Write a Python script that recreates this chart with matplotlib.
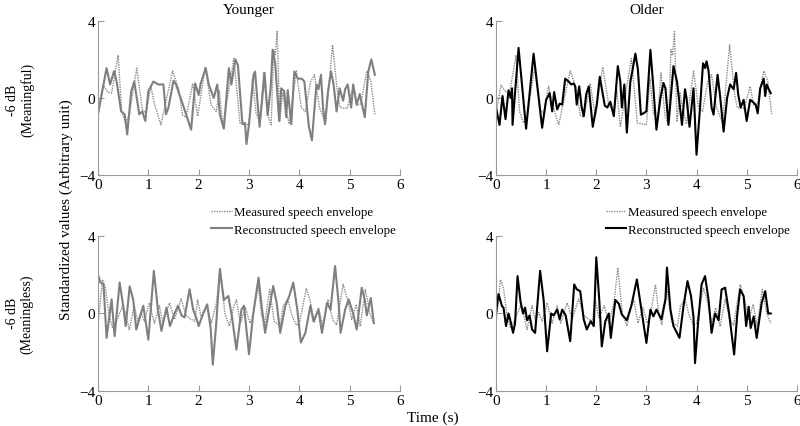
import matplotlib
matplotlib.use("Agg")
import matplotlib.pyplot as plt

plt.rcParams['font.family'] = ['Liberation Serif', 'DejaVu Serif']

# measured envelope, meaningful sentence (same in both top panels)
meas_mf_t = [0, 0.1, 0.2, 0.27, 0.4, 0.47, 0.55, 0.62, 0.77, 0.88, 0.95, 1.05, 1.12, 1.25,
             1.48, 1.6, 1.68, 1.75, 1.88, 1.98, 2.13, 2.25, 2.35, 2.41, 2.48, 2.7, 2.82,
             2.92, 3.0, 3.07, 3.14, 3.22, 3.29, 3.37, 3.44, 3.49, 3.52, 3.56, 3.61, 3.67,
             3.72, 3.8, 3.94, 4.04, 4.12, 4.22, 4.3, 4.4, 4.52, 4.66, 4.76, 4.81, 4.95,
             5.07, 5.14, 5.22, 5.34, 5.42, 5.5]
meas_mf_v = [-0.8, 0.66, 0.3, 0.25, 2.2, -0.7, -1.3, -0.9, 1.55, -0.6, -0.8, 0.6, -0.3, -1.4,
             1.4, 0.5, -0.9, -1.0, 0.75, -0.95, 1.6, -0.4, -0.7, 0.4, -1.5, 2.05, -1.3,
             -1.35, -1.4, 1.0, -0.8, -1.2, 1.3, -0.9, -1.4, 2.5, 2.2, 3.45, -1.2, 0.3,
             -0.5, -1.35, 1.4, -0.5, -0.7, 0.8, 1.2, -0.5, -1.3, 2.75, 0.2, -0.5, -0.55,
             0.6, -0.4, -0.3, 1.4, 0.9, -0.85]

# reconstructed, younger, meaningful
rec_ym_t = [0, 0.17, 0.24, 0.32, 0.37, 0.46, 0.53, 0.58, 0.66, 0.72, 0.82, 0.88, 0.94, 1.0,
            1.1, 1.2, 1.3, 1.35, 1.4, 1.5, 1.55, 1.68, 1.75, 1.85, 1.93, 2.0, 2.04, 2.14,
            2.2, 2.3, 2.37, 2.42, 2.5, 2.6, 2.65, 2.73, 2.78, 2.87, 2.92, 2.95, 3.0, 3.09,
            3.12, 3.21, 3.31, 3.37, 3.43, 3.47, 3.52, 3.6, 3.64, 3.7, 3.74, 3.77, 3.84,
            3.9, 3.97, 4.05, 4.1, 4.19, 4.25, 4.34, 4.38, 4.43, 4.47, 4.51, 4.57, 4.63,
            4.68, 4.74, 4.8, 4.87, 4.91, 4.96, 5.03, 5.07, 5.14, 5.2, 5.3, 5.37, 5.43, 5.5]
rec_ym_v = [-0.85, 1.55, 0.7, 1.4, 0.85, -0.7, -0.85, -1.9, 0.35, 0.85, -0.85, -0.7, -1.2, 0.35,
            0.85, 0.7, 0.7, -0.85, -0.5, 0.9, 0.7, -0.3, -0.85, -1.65, 0.75, 0.15, 0.75, 1.55,
            0.7, 0.0, 0.7, -0.85, -1.6, 1.55, 0.7, 2.0, 1.7, -1.37, -1.3, -2.4, -1.37, 1.2,
            1.37, -1.5, 1.3, -0.9, 0.5, 2.5, 1.8, -1.2, 0.5, 0.35, -1.0, 0.4, -1.37,
            1.37, 1.0, 1.0, 0.85, -1.5, -2.2, 0.7, 0.45, 1.2, -0.5, -1.37, 0.35, 1.37,
            0.7, -0.7, 0.5, -0.15, 0.45, 0.7, -0.5, 0.7, -0.35, 0.2, -1.0, 1.37, 2.0, 1.2]

# reconstructed, older, meaningful
rec_om_t = [0, 0.07, 0.13, 0.19, 0.25, 0.29, 0.32, 0.33, 0.45, 0.6, 0.75, 0.92, 1.0, 1.07,
            1.12, 1.16, 1.22, 1.27, 1.32, 1.38, 1.45, 1.5, 1.55, 1.58, 1.61, 1.66, 1.71,
            1.75, 1.8, 1.85, 1.93, 2.01, 2.07, 2.12, 2.17, 2.22, 2.28, 2.35, 2.43, 2.48,
            2.51, 2.56, 2.61, 2.68, 2.72, 2.78, 2.83, 2.89, 2.94, 3.0, 3.08, 3.13, 3.2,
            3.28, 3.34, 3.38, 3.44, 3.54, 3.61, 3.71, 3.77, 3.8, 3.86, 3.94, 4.0, 4.07,
            4.13, 4.17, 4.2, 4.24, 4.3, 4.34, 4.42, 4.47, 4.54, 4.61, 4.67, 4.74, 4.79,
            4.83, 4.88, 4.94, 5.0, 5.07, 5.12, 5.18, 5.22, 5.27, 5.34, 5.37, 5.4, 5.44, 5.48]
rec_om_v = [-0.5, -1.4, 0.1, -1.1, 0.4, 0.0, 0.5, -1.4, 2.6, -1.6, 2.3, -1.55, -0.1, 0.25,
            -0.7, 0.3, -0.6, -0.3, -0.35, 1.0, 0.85, 0.7, 0.75, 0.6, -0.35, 0.6, -0.5,
            -0.95, 0.2, 0.6, -1.5, -0.35, 1.1, 0.35, -0.4, -0.5, -0.2, -0.95, 1.65, 0.85,
            -0.5, 0.7, -1.8, 0.85, 1.4, 2.3, 1.5, -0.87, -0.8, -0.7, 2.5, 0.85, -1.65,
            0.0, 0.78, 0.5, -1.4, 1.65, 0.85, -1.4, 0.45, 0.0, -1.5, 0.5, -2.95, -0.5,
            1.8, 1.55, 1.9, 1.4, -0.5, -0.87, 1.2, 0.1, -1.75, 0.0, 0.7, 0.45, 1.3,
            0.2, -0.5, -0.1, -1.2, -0.1, -0.2, -0.35, -0.8, 0.5, 1.0, 0.1, 0.7, 0.45, 0.25]

# measured envelope, meaningless sentence (same in both bottom panels)
meas_ml_t = [0, 0.09, 0.15, 0.22, 0.29, 0.38, 0.49, 0.55, 0.62, 0.72, 0.79, 0.85, 0.92, 1.02,
             1.12, 1.22, 1.29, 1.42, 1.52, 1.65, 1.75, 1.82, 1.92, 1.98, 2.05, 2.16, 2.25,
             2.35, 2.43, 2.52, 2.61, 2.7, 2.75, 2.83, 2.93, 3.02, 3.08, 3.18, 3.25, 3.31,
             3.41, 3.5, 3.62, 3.68, 3.77, 3.86, 3.94, 4.0, 4.14, 4.22, 4.3, 4.38, 4.47,
             4.57, 4.66, 4.74, 4.87, 4.97, 5.04, 5.13, 5.21, 5.31, 5.36, 5.4, 5.48]
meas_ml_v = [-0.55, 1.75, 1.3, -0.1, -0.75, -0.3, 0.4, 0.0, -0.83, 0.4, -0.4, 0.05, -0.4, 0.55,
             -0.5, 0.4, -0.5, 0.55, -0.3, 0.75, -0.1, -0.25, -0.4, 0.7, -0.2, 0.4, -0.5,
             0.5, 2.35, 0.0, -0.65, 0.4, 0.7, -0.5, 0.3, -0.5, -0.1, 1.5, -0.1, -0.57,
             1.24, -0.4, -0.66, 0.4, 0.75, -0.15, -0.6, -0.5, 1.3, 0.6, -0.48, 0.3, -0.66,
             0.73, -0.3, -0.6, 1.5, 0.6, -0.3, 0.47, -0.66, 1.24, 0.6, 0.0, -0.5]

# reconstructed, younger, meaningless
rec_yl_t = [0, 0.05, 0.11, 0.17, 0.27, 0.33, 0.43, 0.5, 0.55, 0.63, 0.7, 0.76, 0.82, 0.9,
            1.0, 1.11, 1.19, 1.26, 1.36, 1.43, 1.52, 1.59, 1.66, 1.72, 1.82, 1.89, 1.95,
            2.0, 2.09, 2.17, 2.24, 2.28, 2.35, 2.42, 2.5, 2.59, 2.66, 2.75, 2.85, 2.9,
            3.0, 3.08, 3.19, 3.26, 3.32, 3.48, 3.55, 3.62, 3.72, 3.8, 3.88, 3.96, 4.03,
            4.12, 4.22, 4.28, 4.38, 4.45, 4.55, 4.62, 4.71, 4.78, 4.82, 4.91, 4.98, 5.07,
            5.14, 5.24, 5.3, 5.34, 5.42, 5.48]
rec_yl_v = [2.0, 1.6, 1.5, -1.26, 0.73, -1.17, 1.6, 0.4, -0.65, 1.4, 0.7, -0.83, -0.3, 0.4,
            -1.35, 2.2, 0.2, -0.9, 0.3, -0.65, 0.0, 0.4, -0.1, -0.2, 1.25, 0.2, -0.2,
            -0.65, 0.0, 0.47, -0.8, -2.64, -0.5, 2.28, 0.7, 0.9, -0.15, -1.87, 0.2, 0.4,
            -2.1, -0.1, 1.85, 0.2, -1.0, 1.42, 0.55, -1.0, 0.38, 0.9, 1.6, 0.2, -1.5,
            -1.0, 0.4, -0.4, 0.2, -1.0, 0.55, 0.2, 2.45, 0.55, -1.0, 0.2, 0.73, 0.0,
            -0.83, 1.33, 0.7, -0.1, 0.8, -0.5]

# reconstructed, older, meaningless
rec_ol_t = [0, 0.05, 0.12, 0.15, 0.2, 0.25, 0.29, 0.34, 0.38, 0.43, 0.49, 0.54, 0.58, 0.62,
            0.67, 0.72, 0.78, 0.88, 0.95, 1.02, 1.1, 1.15, 1.22, 1.27, 1.32, 1.39, 1.48,
            1.56, 1.61, 1.68, 1.75, 1.81, 1.89, 1.95, 2.0, 2.06, 2.11, 2.18, 2.25, 2.29,
            2.38, 2.45, 2.51, 2.61, 2.7, 2.81, 2.9, 3.0, 3.08, 3.14, 3.2, 3.3, 3.38,
            3.41, 3.48, 3.54, 3.66, 3.74, 3.82, 3.89, 3.94, 3.97, 4.03, 4.1, 4.17, 4.24,
            4.3, 4.37, 4.44, 4.5, 4.57, 4.65, 4.75, 4.81, 4.87, 4.94, 4.99, 5.04, 5.08,
            5.14, 5.2, 5.3, 5.37, 5.43, 5.48]
rec_ol_v = [0.0, 1.0, 0.38, 0.3, -0.65, 0.0, -0.4, -1.0, -0.5, 1.93, 0.6, 0.0, 0.3, -0.35,
            -0.1, -0.83, -1.0, 2.2, 0.7, -1.95, 0.0, -0.1, 0.2, -0.3, 0.2, -0.1, -1.43,
            1.5, 1.25, 1.15, -0.3, -0.83, -0.4, -0.65, 2.9, 0.7, -1.7, -0.4, 0.0, -1.26,
            0.7, 0.5, -0.05, -0.35, 0.4, 1.76, 0.2, -1.52, 0.2, -0.15, 0.2, -0.3, 0.73,
            2.37, 0.2, -0.65, -1.26, 0.38, 1.67, 0.9, -0.2, -2.56, -0.5, 1.5, 1.93, 0.7,
            -1.0, 0.0, -0.35, 1.24, 1.33, 0.0, -2.12, -0.1, 1.24, 0.9, -0.65, 0.35, -0.75,
            -0.15, -1.26, 0.55, 1.15, 0.0, 0.0]

gray = '#7f7f7f'
fig = plt.figure(figsize=(8, 4.27), dpi=100)

ax_tl = fig.add_axes([0.1225, 0.588, 0.3775, 0.3607])
ax_tr = fig.add_axes([0.62, 0.588, 0.376, 0.3607])
ax_bl = fig.add_axes([0.1225, 0.082, 0.3775, 0.363])
ax_br = fig.add_axes([0.62, 0.082, 0.376, 0.363])

panels = [
    (ax_tl, meas_mf_t, meas_mf_v, rec_ym_t, rec_ym_v, gray),
    (ax_tr, meas_mf_t, meas_mf_v, rec_om_t, rec_om_v, 'black'),
    (ax_bl, meas_ml_t, meas_ml_v, rec_yl_t, rec_yl_v, gray),
    (ax_br, meas_ml_t, meas_ml_v, rec_ol_t, rec_ol_v, 'black'),
]

for ax, mt, mv, rt, rv, col in panels:
    ax.plot(mt, mv, ls=(0, (1, 0.8)), color='#8a8a8a', lw=1.0, label='Measured speech envelope')
    ax.plot(rt, rv, ls='-', color=col, lw=1.5, label='Reconstructed speech envelope')
    ax.set_xlim(0, 6)
    ax.set_ylim(-4, 4)
    ax.set_xticks([0, 1, 2, 3, 4, 5, 6])
    ax.set_yticks([-4, 0, 4])
    ax.spines['top'].set_visible(False)
    ax.spines['right'].set_visible(False)
    ax.spines['left'].set_color('#9a9a9a')
    ax.spines['bottom'].set_color('#9a9a9a')
    ax.tick_params(direction='in', length=4, width=0.8, color='#9a9a9a',
                   labelsize=11, pad=2)

ax_tl.set_title('Younger', fontsize=11, pad=6)
ax_tr.set_title('Older', fontsize=11, pad=6)

ax_bl.legend(loc='lower left', bbox_to_anchor=(0.375, 1.0), frameon=False,
             fontsize=9.3, handlelength=1.6, handletextpad=0.15,
             labelspacing=0.45, borderpad=0, borderaxespad=0)
ax_br.legend(loc='lower left', bbox_to_anchor=(0.365, 1.0), frameon=False,
             fontsize=9.3, handlelength=1.6, handletextpad=0.15,
             labelspacing=0.45, borderpad=0, borderaxespad=0)

fig.text(0.025, 0.765, '-6 dB\n(Meaningful)', rotation=90, ha='center', va='center',
         fontsize=10, linespacing=1.1)
fig.text(0.025, 0.265, '-6 dB\n(Meaningless)', rotation=90, ha='center', va='center',
         fontsize=10, linespacing=1.1)
fig.text(0.083, 0.508, 'Standardized values (Arbitrary unit)', rotation=90,
         ha='center', va='center', fontsize=11)
fig.text(0.541, 0.02, 'Time (s)', ha='center', va='center', fontsize=11)

fig.savefig('out.png', dpi=100)
